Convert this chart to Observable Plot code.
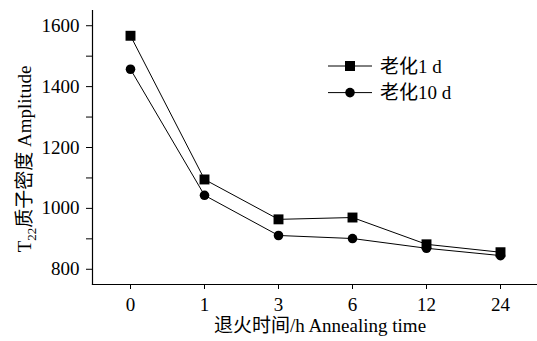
<!DOCTYPE html>
<html><head><meta charset="utf-8">
<script src="https://cdn.jsdelivr.net/npm/d3@7"></script>
<script src="https://cdn.jsdelivr.net/npm/@observablehq/plot@0.6"></script>
<style>body{margin:0;background:#fff}</style>
</head><body><div id="chart"></div>
<script>
const annealingTimes = ["0","1","3","6","12","24"];
const aged1d = [1567,1095,964,970,882,856];
const aged10d = [1457,1043,911,901,869,845];
const seriesNames = ["老化1 d","老化10 d"];
const yMajorTicks = [800,1000,1200,1400,1600];
const yMinorTicks = [900,1100,1300,1500];
const xTitle = "退火时间/h Annealing time";
const yTitleParts = ["T", "22", "质子密度 Amplitude"];

const FONT = "'Liberation Serif', 'Noto Sans CJK SC', serif";
const s1 = annealingTimes.map((t,i)=>({t, v: aged1d[i]}));
const s2 = annealingTimes.map((t,i)=>({t, v: aged10d[i]}));

const chart = Plot.plot({
  width: 537, height: 341,
  marginLeft: 92, marginRight: 0, marginTop: 10, marginBottom: 57,
  style: {fontFamily: FONT, fontSize: "19px", color: "black", background: "white", overflow: "visible"},
  x: {type: "point", domain: annealingTimes, padding: 0.5, label: null},
  y: {domain: [750, 1650], label: null},
  marks: [
    Plot.frame({anchor: "left", stroke: "black", strokeWidth: 1.2}),
    Plot.frame({anchor: "bottom", stroke: "black", strokeWidth: 1.2}),
    Plot.axisY({ticks: yMajorTicks, tickSize: 6, tickPadding: 7, label: null, fontSize: 19, tickFormat: d3.format("d")}),
    Plot.axisY({ticks: yMinorTicks, tickSize: 6, tickFormat: () => "", label: null}),
    Plot.axisX({tickSize: 5, tickPadding: 7.5, label: null, fontSize: 19}),
    Plot.line(s1, {x: "t", y: "v", stroke: "black", strokeWidth: 1}),
    Plot.line(s2, {x: "t", y: "v", stroke: "black", strokeWidth: 1}),
    Plot.dot(s1, {x: "t", y: "v", symbol: "square", r: 5.6, fill: "black"}),
    Plot.dot(s2, {x: "t", y: "v", symbol: "circle", r: 4.8, fill: "black"})
  ]
});
document.getElementById("chart").appendChild(chart);

const svg = d3.select(chart);
// x title
svg.append("text").attr("x", 320).attr("y", 332).attr("text-anchor", "middle")
  .attr("font-size", 19).attr("fill", "black").text(xTitle);
// y title
const yt = svg.append("text").attr("transform", "translate(31,159) rotate(-90)")
  .attr("text-anchor", "middle").attr("font-size", 19).attr("fill", "black");
yt.append("tspan").text(yTitleParts[0]);
yt.append("tspan").attr("font-size", 13).attr("dy", 5).text(yTitleParts[1]);
yt.append("tspan").attr("dy", -5).text(yTitleParts[2]);
// legend
const lg = svg.append("g");
seriesNames.forEach((name, i) => {
  const y = 66 + i * 26.6;
  lg.append("line").attr("x1", 328).attr("x2", 372).attr("y1", y).attr("y2", y).attr("stroke", "black");
  if (i === 0) lg.append("rect").attr("x", 345).attr("y", y - 5).attr("width", 10).attr("height", 10).attr("fill", "black");
  else lg.append("circle").attr("cx", 350).attr("cy", y).attr("r", 4.8).attr("fill", "black");
  lg.append("text").attr("x", 380).attr("y", y).attr("dy", "0.35em").attr("text-anchor", "start")
    .attr("font-size", 19).attr("fill", "black").text(name);
});
// force serif font on every text element
svg.selectAll("text, g").style("font-family", FONT).style("font-variant", "normal");
</script></body></html>
